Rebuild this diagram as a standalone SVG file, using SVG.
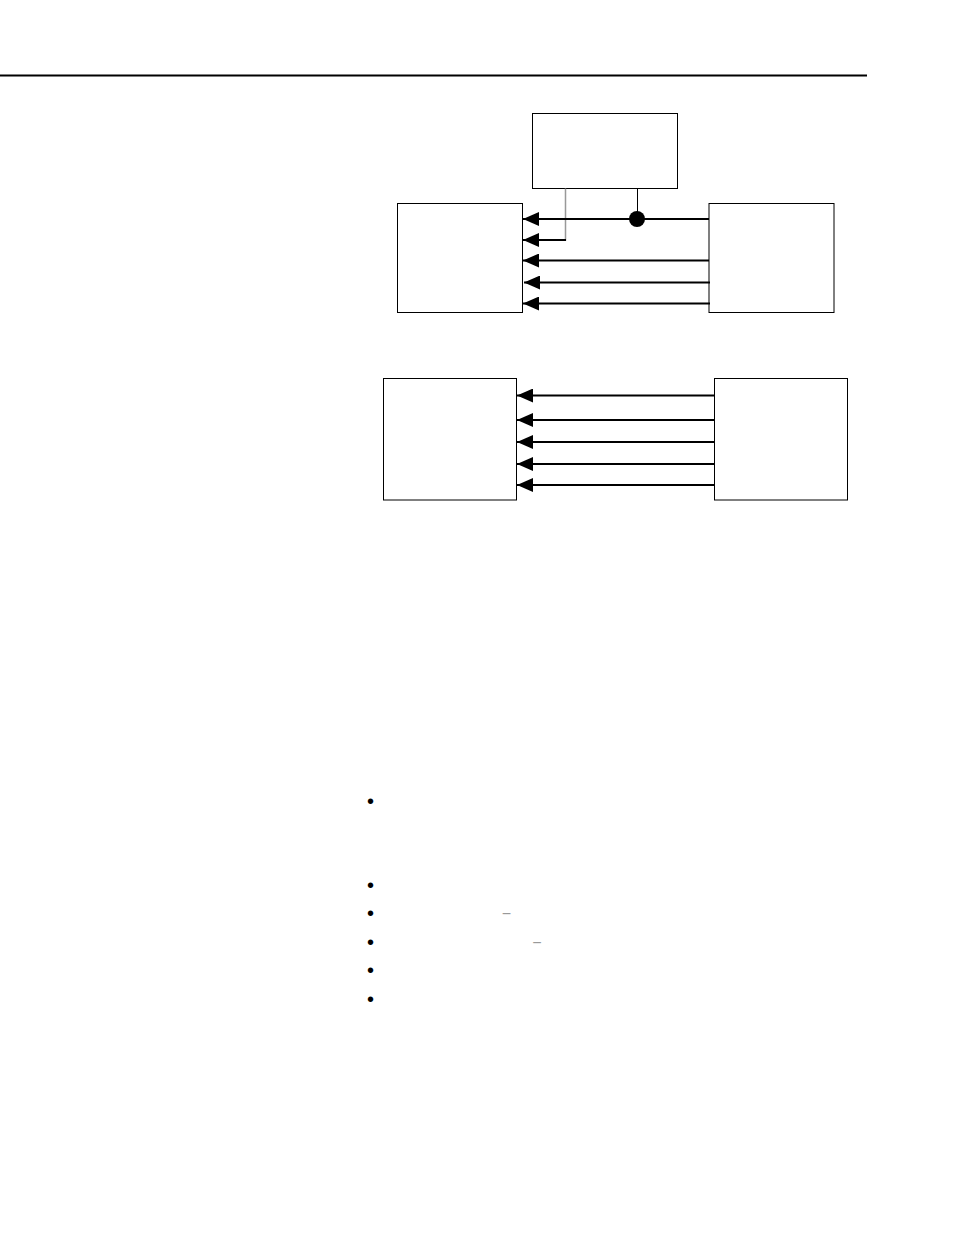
<svg xmlns="http://www.w3.org/2000/svg" width="954" height="1235" viewBox="0 0 954 1235">
<style>
.box{fill:#fff;stroke:#000;stroke-width:1}
.ar{fill:none;stroke:#000;stroke-width:2}
.gr{fill:none;stroke:#999;stroke-width:1.5}
.bul{font-family:"Liberation Sans",Arial,sans-serif;font-size:20px;fill:#000}
.dash{font-family:"Liberation Sans",Arial,sans-serif;font-size:16px;fill:#999}
</style>
<defs>
<marker id="ah" markerWidth="16" markerHeight="14" viewBox="0 0 16 14" refX="16" refY="7" orient="auto" markerUnits="userSpaceOnUse">
<path d="M0,0 L16,7 L0,14 Z" fill="#000"/>
</marker>
</defs>
<rect width="954" height="1235" fill="#fff"/>
<line x1="0" y1="75.5" x2="867" y2="75.5" stroke="#000" stroke-width="2"/>
<g id="top-box"><rect class="box" x="532.5" y="113.5" width="145" height="75"/></g>
<g id="left-box-1"><rect class="box" x="397.5" y="203.5" width="125" height="109"/></g>
<g id="right-box-1"><rect class="box" x="709" y="203.5" width="125" height="109"/></g>
<g id="left-box-2"><rect class="box" x="383.5" y="378.5" width="133" height="121.5"/></g>
<g id="right-box-2"><rect class="box" x="714.5" y="378.5" width="133" height="121.5"/></g>
<g id="connectors">
<line x1="637.5" y1="188.5" x2="637.5" y2="219" stroke="#000" stroke-width="1"/>
<polyline class="gr" points="565.5,188.5 565.5,240 545,240"/>
<line class="ar" x1="709" y1="219" x2="523" y2="219" marker-end="url(#ah)"/>
<circle cx="637" cy="219" r="8" fill="#000"/>
<line class="ar" x1="566" y1="240" x2="523" y2="240" marker-end="url(#ah)"/>
<line class="ar" x1="709" y1="260.5" x2="523" y2="260.5" marker-end="url(#ah)"/>
<line class="ar" x1="710" y1="282.5" x2="524" y2="282.5" marker-end="url(#ah)"/>
<line class="ar" x1="710" y1="303.5" x2="523" y2="303.5" marker-end="url(#ah)"/>
<line class="ar" x1="714" y1="395.5" x2="517" y2="395.5" marker-end="url(#ah)"/>
<line class="ar" x1="714" y1="420" x2="517" y2="420" marker-end="url(#ah)"/>
<line class="ar" x1="714" y1="442" x2="517" y2="442" marker-end="url(#ah)"/>
<line class="ar" x1="714" y1="464" x2="517" y2="464" marker-end="url(#ah)"/>
<line class="ar" x1="714" y1="485" x2="517" y2="485" marker-end="url(#ah)"/>
</g>
<g id="bullets">
<text class="bul" x="370.5" y="807.5" text-anchor="middle">•</text>
<text class="bul" x="370.5" y="891.5" text-anchor="middle">•</text>
<text class="bul" x="370.5" y="920" text-anchor="middle">•</text>
<text class="bul" x="370.5" y="949" text-anchor="middle">•</text>
<text class="bul" x="370.5" y="977" text-anchor="middle">•</text>
<text class="bul" x="370.5" y="1005.5" text-anchor="middle">•</text>
<text class="dash" x="506.5" y="919" text-anchor="middle">−</text>
<text class="dash" x="537" y="948" text-anchor="middle">−</text>
</g>
</svg>
